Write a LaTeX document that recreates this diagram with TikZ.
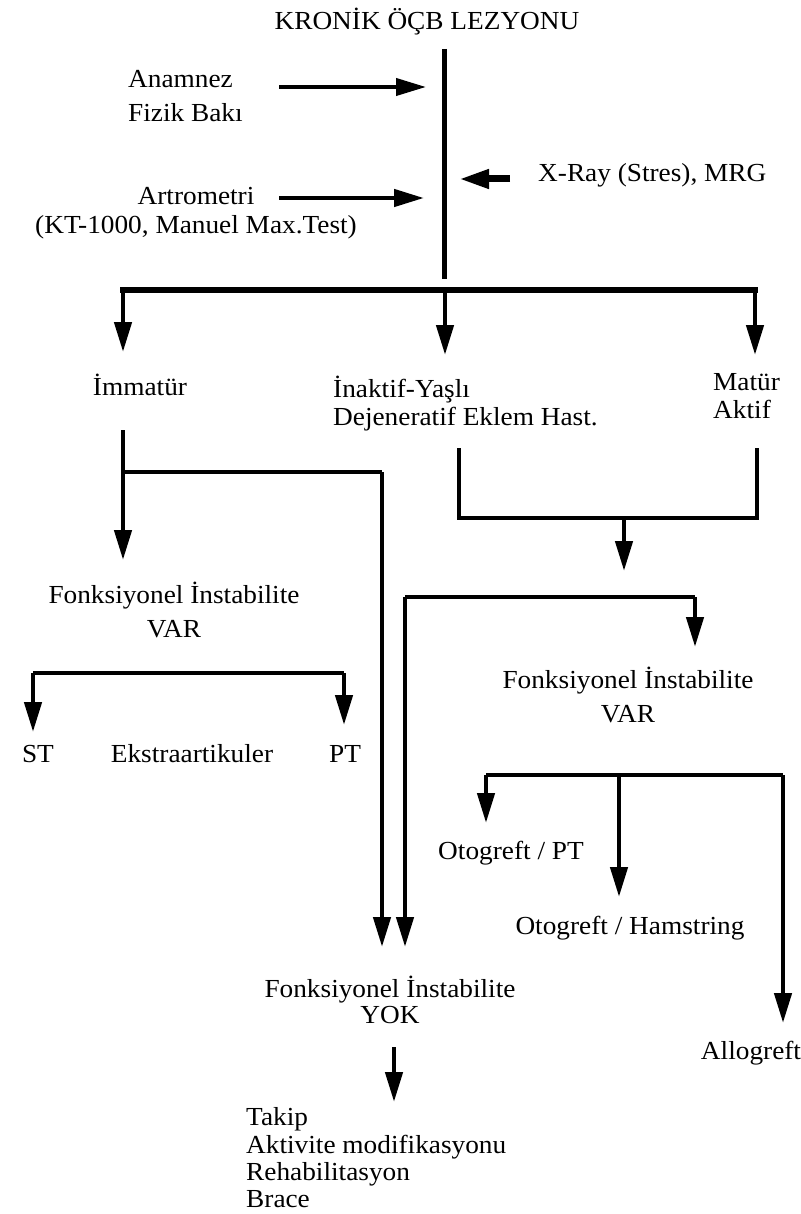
\documentclass[tikz,border=0pt]{standalone}
\usepackage{fontspec}
\setmainfont{Liberation Serif}[FakeStretch=1.05]
\usetikzlibrary{arrows.meta}

\tikzset{
  lbl/.style={inner sep=0pt, font=\fontsize{26}{28}\selectfont},
  wire/.style={line width=4.5pt},
  arr/.style={wire, -{Triangle[length=30pt,width=17pt]}},
}

\begin{document}
\begin{tikzpicture}[x=1pt,y=-1pt]
\useasboundingbox (0,0) rectangle (800,1214);

% labels
\node[lbl] (title) at (427,22) {KRONİK ÖÇB LEZYONU};
\node[lbl, anchor=west, align=left, font=\fontsize{26}{34}\selectfont] (anam) at (128,96) {Anamnez\\Fizik Bakı};
\node[lbl, align=center, font=\fontsize{26}{29}\selectfont] (artro) at (196,213) {Artrometri\\(KT-1000, Manuel Max.Test)};
\node[lbl, anchor=west] (xray) at (538,175) {X-Ray (Stres), MRG};
\node[lbl] (imm) at (140,385) {İmmatür};
\node[lbl, anchor=west, align=left] (inak) at (333,404) {İnaktif-Yaşlı\\Dejeneratif Eklem Hast.};
\node[lbl, anchor=west, align=left] (mat) at (713,396) {Matür\\Aktif};
\node[lbl, align=center, font=\fontsize{26}{34}\selectfont] (fivarL) at (174,610) {Fonksiyonel İnstabilite\\VAR};
\node[lbl] (st) at (38,754) {ST};
\node[lbl] (ekstra) at (192,754) {Ekstraartikuler};
\node[lbl] (ptL) at (345,754) {PT};
\node[lbl, align=center, font=\fontsize{26}{34}\selectfont] (fivarR) at (628,695) {Fonksiyonel İnstabilite\\VAR};
\node[lbl] (otopt) at (511,853) {Otogreft / PT};
\node[lbl] (otoham) at (630,928) {Otogreft / Hamstring};
\node[lbl] (allo) at (751,1053) {Allogreft};
\node[lbl, align=center, font=\fontsize{26}{26}\selectfont] (fiyok) at (390,1000) {Fonksiyonel İnstabilite\\YOK};
\node[lbl, anchor=west, align=left, font=\fontsize{26}{27.3}\selectfont] (takip) at (246,1158) {Takip\\Aktivite modifikasyonu\\Rehabilitasyon\\Brace};

% trunk
\coordinate (t0) at (444,49);
\coordinate (t1) at (444,279);
\draw[wire, line width=5pt] (t0) -- (t1);

% inputs to the trunk
\coordinate (a1) at (279,87);
\coordinate (a1e) at (426,87);
\coordinate (a2) at (279,198);
\coordinate (a2e) at (424,198);
\coordinate (x1) at (510,179);
\coordinate (x1e) at (459,179);
\draw[arr, line width=4pt] (a1) -- (a1e);
\draw[arr, line width=4.5pt] (a2) -- (a2e);
\draw[arr, line width=7pt, -{Triangle[length=30pt,width=18pt]}] (x1) -- (x1e);

% first split
\coordinate (b0) at (120,290);
\coordinate (b1) at (758,290);
\coordinate (bl) at (123,290);
\coordinate (bm) at (445,290);
\coordinate (br) at (755,290);
\coordinate (blt) at (123,352);
\coordinate (bmt) at (445,355);
\coordinate (brt) at (755,355);
\draw[wire, line width=6pt] (b0) -- (b1);
\draw[arr] (bl) -- (blt);
\draw[arr] (bm) -- (bmt);
\draw[arr] (br) -- (brt);

% immatur branch
\coordinate (i0) at (123,430);
\coordinate (i1) at (123,472);
\coordinate (i2) at (382,472);
\coordinate (i3) at (382,947);
\coordinate (it) at (123,560);
\draw[arr] (i0) -- (it);
\draw[wire] (i1) -- (i2);
\draw[arr] (i2) -- (i3);

% inaktif / matur join
\coordinate (m0) at (459,448);
\coordinate (m1) at (757,448);
\coordinate (m2) at (624,518);
\coordinate (mt) at (624,571);
\draw[wire] (m0) |- (m2) -| (m1);
\draw[arr] (m2) -- (mt);

% second split under the join
\coordinate (s0) at (405,597);
\coordinate (s1) at (695,597);
\coordinate (s0t) at (405,947);
\coordinate (s1t) at (695,647);
\draw[wire] (s0) -- (s1);
\draw[arr] (s1) -- (s1t);
\draw[arr] (s0) -- (s0t);

% left FI VAR
\coordinate (l0) at (33,673);
\coordinate (l1) at (344,673);
\coordinate (l0t) at (33,732);
\coordinate (l1t) at (344,725);
\draw[wire] (l0) -- (l1);
\draw[arr] (l0) -- (l0t);
\draw[arr] (l1) -- (l1t);

% right FI VAR
\coordinate (r0) at (486,775);
\coordinate (r1) at (619,775);
\coordinate (r2) at (783,775);
\coordinate (r0t) at (486,823);
\coordinate (r1t) at (619,897);
\coordinate (r2t) at (783,1023);
\draw[wire] (r0) -- (r2);
\draw[arr] (r0) -- (r0t);
\draw[arr] (r1) -- (r1t);
\draw[arr] (r2) -- (r2t);

% FI YOK
\coordinate (y0) at (394,1047);
\coordinate (yt) at (394,1102);
\draw[arr] (y0) -- (yt);

\end{tikzpicture}
\end{document}
